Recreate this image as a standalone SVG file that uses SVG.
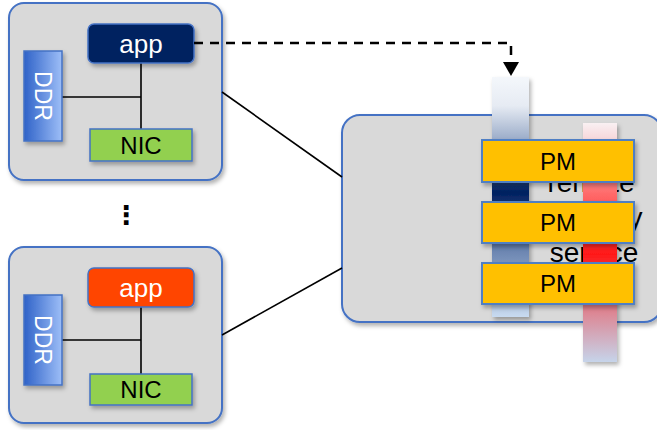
<svg xmlns="http://www.w3.org/2000/svg" width="657" height="430" viewBox="0 0 657 430">
  <defs>
    <style>
      .box { fill: #d9d9d9; stroke: #4472c4; stroke-width: 2; }
      .part { stroke: #4472c4; stroke-width: 1.5; }
      .wire { stroke: #000; stroke-width: 1.6; fill: none; }
      .lbl { font-family: "Liberation Sans", Arial, sans-serif; text-anchor: middle; }
      .pm { fill: #ffc000; stroke: #4f7fc4; stroke-width: 2; }
    </style>
    <filter id="shadow" x="-10%" y="-10%" width="130%" height="140%">
      <feDropShadow dx="2" dy="3" stdDeviation="2" flood-color="#000" flood-opacity="0.3"/>
    </filter>
    <linearGradient id="ddrGrad" x1="0" y1="0" x2="1" y2="0">
      <stop offset="0" stop-color="#2f62c8"/>
      <stop offset="1" stop-color="#9dbef7"/>
    </linearGradient>
    <linearGradient id="blueBar" x1="0" y1="0" x2="0" y2="1">
      <stop offset="0" stop-color="#f4f7fb"/>
      <stop offset="0.12" stop-color="#e6ebf3"/>
      <stop offset="0.27" stop-color="#96a8c6"/>
      <stop offset="0.48" stop-color="#002060"/>
      <stop offset="0.72" stop-color="#6a84b0"/>
      <stop offset="1" stop-color="#c8daf0"/>
    </linearGradient>
    <linearGradient id="redBar" x1="0" y1="0" x2="0" y2="1">
      <stop offset="0" stop-color="#f9f0f2"/>
      <stop offset="0.08" stop-color="#f6d2d6"/>
      <stop offset="0.3" stop-color="#ff6868"/>
      <stop offset="0.55" stop-color="#ff1818"/>
      <stop offset="0.76" stop-color="#e07a86"/>
      <stop offset="1" stop-color="#c6d4ea"/>
    </linearGradient>
  </defs>

  <!-- upper host -->
  <g id="node-host1">
    <rect class="box" x="9" y="3" width="213" height="177" rx="15" filter="url(#shadow)"/>
    <path class="wire" d="M141,63 V129 M62,97 H141"/>
    <rect class="part" x="88" y="24" width="106" height="39" rx="6" fill="#002060" filter="url(#shadow)"/>
    <text class="lbl" x="141" y="53" font-size="26" fill="#fff">app</text>
    <rect class="part" x="24" y="51" width="38" height="90" fill="url(#ddrGrad)" filter="url(#shadow)"/>
    <text class="lbl" font-size="23" fill="#fff" transform="translate(43 96) rotate(90)" y="8">DDR</text>
    <rect class="part" x="90" y="129" width="102" height="32" fill="#92d050" filter="url(#shadow)"/>
    <text class="lbl" x="141" y="154" font-size="24" fill="#000">NIC</text>
  </g>

  <!-- vertical ellipsis between hosts -->
  <text x="126" y="224" font-size="26" font-weight="bold" text-anchor="middle" style="font-family:'DejaVu Sans',sans-serif">⋮</text>

  <!-- lower host -->
  <g id="node-host2">
    <rect class="box" x="9" y="247" width="213" height="176" rx="15" filter="url(#shadow)"/>
    <path class="wire" d="M141,307 V374 M62,340 H141"/>
    <rect class="part" x="88" y="268" width="106" height="39" rx="6" fill="#ff4400" filter="url(#shadow)"/>
    <text class="lbl" x="141" y="297" font-size="26" fill="#fff">app</text>
    <rect class="part" x="24" y="295" width="38" height="90" fill="url(#ddrGrad)" filter="url(#shadow)"/>
    <text class="lbl" font-size="23" fill="#fff" transform="translate(43 340) rotate(90)" y="8">DDR</text>
    <rect class="part" x="90" y="374" width="102" height="31" fill="#92d050" filter="url(#shadow)"/>
    <text class="lbl" x="141" y="398" font-size="24" fill="#000">NIC</text>
  </g>

  <!-- memory pool -->
  <g id="node-pool">
    <rect class="box" x="342" y="115" width="320" height="207" rx="18" filter="url(#shadow)"/>
    <rect x="492" y="77" width="37" height="240" fill="url(#blueBar)" filter="url(#shadow)"/>
    <g class="lbl" font-size="28" fill="#000">
      <text x="591" y="192">remote</text>
      <text x="592" y="227">memory</text>
      <text x="594" y="262">service</text>
    </g>
    <rect x="583" y="123" width="34" height="239" fill="url(#redBar)" filter="url(#shadow)"/>
    <g id="pm1">
      <rect class="pm" x="482" y="140" width="152" height="42" filter="url(#shadow)"/>
      <text class="lbl" x="558" y="170" font-size="24">PM</text>
    </g>
    <g id="pm2">
      <rect class="pm" x="482" y="202" width="152" height="41" filter="url(#shadow)"/>
      <text class="lbl" x="558" y="231" font-size="24">PM</text>
    </g>
    <g id="pm3">
      <rect class="pm" x="482" y="263" width="152" height="41" filter="url(#shadow)"/>
      <text class="lbl" x="558" y="292" font-size="24">PM</text>
    </g>
  </g>

  <!-- links -->
  <g id="connectors">
    <line class="wire" x1="222" y1="92" x2="342" y2="177"/>
    <line class="wire" x1="222" y1="335" x2="342" y2="268"/>
    <path d="M194,43 H511 V62" fill="none" stroke="#000" stroke-width="2.5" stroke-dasharray="9 7"/>
    <path d="M503,62 H519 L511,76 Z" fill="#000"/>
  </g>
</svg>
